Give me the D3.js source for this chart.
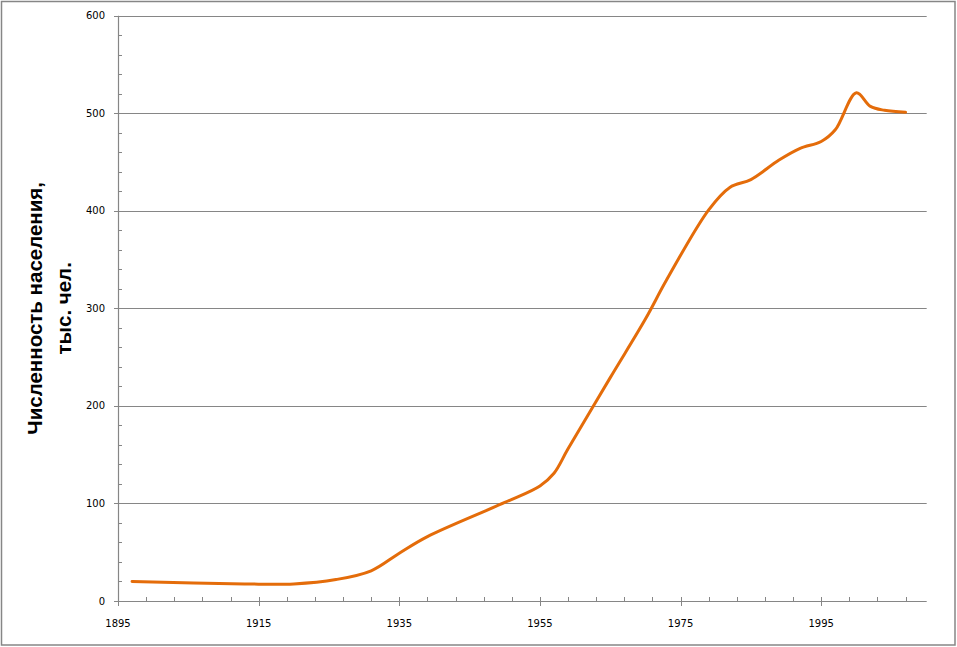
<!DOCTYPE html>
<html>
<head>
<meta charset="utf-8">
<script src="https://cdn.jsdelivr.net/npm/d3@7"></script>
<style>
  html, body { margin: 0; padding: 0; background: #fff; }
  svg { display: block; }
</style>
</head>
<body>
<svg id="chart" width="957" height="647"></svg>
<script>
// Data
const years = [1897, 1913, 1920, 1926, 1931, 1935, 1939, 1950, 1955, 1957, 1959, 1965, 1970, 1973, 1979, 1982, 1985, 1989, 1992, 1995, 1997, 2000, 2002, 2004, 2007];
const population = [20, 17.5, 17.5, 22, 31, 49, 66, 101, 118, 131, 156, 229, 289, 329, 401, 424, 432, 452, 464, 471, 483, 521, 507, 503, 501];
const xTickLabels = [1895, 1915, 1935, 1955, 1975, 1995];
const yTickLabels = [0, 100, 200, 300, 400, 500, 600];
const yTitleLines = ["Численность населения,", "тыс. чел."];

(function () {
const svg = d3.select("#chart");
const W = 957, H = 647;
const pLeft = 118, pRight = 926.7, pTop = 15.7, pBottom = 601;

// Outer chart border
svg.append("rect")
  .attr("x", 1.5).attr("y", 1.5)
  .attr("width", W - 3.5).attr("height", H - 3.5)
  .attr("fill", "#fff").attr("stroke", "#868686").attr("stroke-width", 1.5);

const x = d3.scaleLinear().domain([1895, 2010]).range([pLeft, pRight]);
const y = d3.scaleLinear().domain([0, 600]).range([pBottom, pTop]);

const gray = "#868686";

// Gridlines
svg.append("g")
  .selectAll("line")
  .data(yTickLabels.filter(d => d > 0))
  .join("line")
  .attr("x1", pLeft).attr("x2", pRight)
  .attr("y1", d => Math.round(y(d)) + 0.5).attr("y2", d => Math.round(y(d)) + 0.5)
  .attr("stroke", gray).attr("stroke-width", 1);

// Y minor ticks (every 20)
const yMinor = d3.range(0, 601, 20);
svg.append("g")
  .selectAll("line")
  .data(yMinor)
  .join("line")
  .attr("x1", d => (d % 100 === 0) ? pLeft - 4 : pLeft)
  .attr("x2", pLeft + 4)
  .attr("y1", d => Math.round(y(d)) + 0.5).attr("y2", d => Math.round(y(d)) + 0.5)
  .attr("stroke", gray).attr("stroke-width", 1);

// X ticks (every 4 years, labels every 20)
const xMinor = d3.range(1895, 2010.01, 4);
svg.append("g")
  .selectAll("line")
  .data(xMinor)
  .join("line")
  .attr("x1", d => Math.round(x(d)) + 0.5).attr("x2", d => Math.round(x(d)) + 0.5)
  .attr("y1", pBottom - 4)
  .attr("y2", d => ((d - 1895) % 20 === 0) ? pBottom + 5 : pBottom)
  .attr("stroke", gray).attr("stroke-width", 1);

// Axis lines
svg.append("line")
  .attr("x1", pLeft + 0.5).attr("x2", pLeft + 0.5)
  .attr("y1", pTop).attr("y2", pBottom + 0.5)
  .attr("stroke", gray).attr("stroke-width", 1.2);
svg.append("line")
  .attr("x1", pLeft).attr("x2", pRight)
  .attr("y1", Math.round(pBottom) + 0.5).attr("y2", Math.round(pBottom) + 0.5)
  .attr("stroke", gray).attr("stroke-width", 1.2);

// Tick labels
svg.append("g")
  .selectAll("text")
  .data(yTickLabels)
  .join("text")
  .attr("x", 105)
  .attr("y", d => y(d))
  .attr("dy", "0.35em")
  .attr("text-anchor", "end")
  .attr("font-family", "DejaVu Sans, Verdana, sans-serif")
  .attr("font-size", 10)
  .attr("fill", "#000")
  .text(d => d);

svg.append("g")
  .selectAll("text")
  .data(xTickLabels)
  .join("text")
  .attr("x", d => x(d))
  .attr("y", 627)
  .attr("text-anchor", "middle")
  .attr("font-family", "DejaVu Sans, Verdana, sans-serif")
  .attr("font-size", 10)
  .attr("fill", "#000")
  .text(d => d);

// Y axis title (two lines, rotated)
const ty = svg.append("text")
  .attr("transform", `translate(0, ${(pTop + pBottom) / 2}) rotate(-90)`)
  .attr("text-anchor", "middle")
  .attr("font-family", "Liberation Sans, Arial, sans-serif")
  .attr("font-weight", "bold")
  .attr("font-size", 20.5)
  .attr("fill", "#000");
ty.selectAll("tspan")
  .data(yTitleLines)
  .join("tspan")
  .attr("x", 0)
  .attr("y", (d, i) => 42 + i * 29)
  .text(d => d);

// Line
const data = years.map((yr, i) => ({ year: yr, value: population[i] }));
const line = d3.line()
  .x(d => x(d.year))
  .y(d => y(d.value))
  .curve(d3.curveCatmullRom.alpha(0.5));

svg.append("path")
  .datum(data)
  .attr("d", line)
  .attr("fill", "none")
  .attr("stroke", "#E46C0A")
  .attr("stroke-width", 3)
  .attr("stroke-linecap", "round")
  .attr("stroke-linejoin", "round");
})();
</script>
</body>
</html>
